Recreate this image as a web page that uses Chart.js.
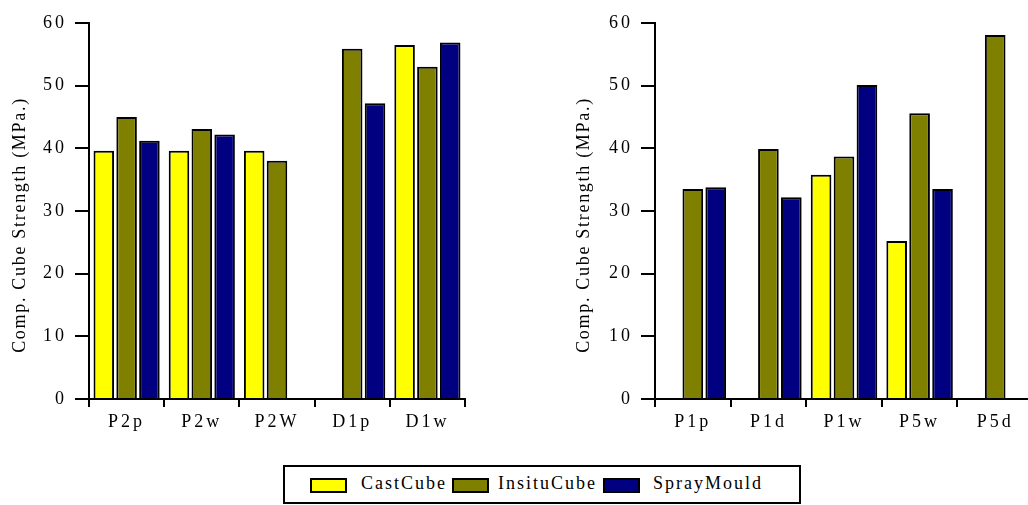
<!DOCTYPE html>
<html>
<head>
<meta charset="utf-8">
<script src="https://cdn.jsdelivr.net/npm/chart.js@4/dist/chart.umd.min.js"></script>
<style>
  html, body { margin: 0; padding: 0; background: #fff; width: 1028px; height: 505px; overflow: hidden; position: relative; }
  canvas { position: absolute; top: 0; }
  #c1 { left: 0; }
  #c2 { left: 560px; }
  #legend { position: absolute; left: 283px; top: 465px; width: 514px; height: 35px; border: 2px solid #000; box-sizing: content-box;
            font-family: 'Liberation Serif', 'Times New Roman', serif; font-size: 18px; letter-spacing: 2px; color: #000; }
  #legend .box { position: absolute; top: 11px; width: 33px; height: 11px; border: 2px solid #000; }
  #legend .txt { position: absolute; top: 5px; line-height: 22px; white-space: nowrap; }
</style>
</head>
<body>
<canvas id="c1" width="480" height="440"></canvas>
<canvas id="c2" width="480" height="440"></canvas>
<div id="legend"></div>
<script>
// ---- data ----
const seriesNames = ['CastCube', 'InsituCube', 'SprayMould'];
const seriesColors = ['#FFFF00', '#808000', '#000080'];

const leftCategories = ['P2p', 'P2w', 'P2W', 'D1p', 'D1w'];
const leftCastCube   = [39.6, 39.6, 39.6, null, 56.5];
const leftInsituCube = [45.0, 43.1, 38.0, 55.9, 53.0];
const leftSprayMould = [41.2, 42.2, null, 47.2, 56.9];

const rightCategories = ['P1p', 'P1d', 'P1w', 'P5w', 'P5d'];
const rightCastCube   = [null, null, 35.8, 25.2, null];
const rightInsituCube = [33.5, 39.9, 38.7, 45.6, 58.1];
const rightSprayMould = [33.8, 32.2, 50.1, 33.5, null];

const yTicks = [0, 10, 20, 30, 40, 50, 60];
const yTitle = 'Comp. Cube Strength (MPa.)';

// ---- style ----
const FONT_FAMILY = "'Liberation Serif', 'Times New Roman', serif";
const FONT_SIZE = 18;
const LETTER = '3px';
const TITLE_LETTER = '1.7px';

const spacingPlugin = {
  id: 'spacing',
  beforeLayout(chart) { chart.ctx.letterSpacing = LETTER; },
  beforeDraw(chart) { chart.ctx.letterSpacing = LETTER; }
};

const yTitlePlugin = {
  id: 'yTitle',
  afterDraw(chart, args, opts) {
    const ctx = chart.ctx;
    const ca = chart.chartArea;
    ctx.save();
    ctx.letterSpacing = TITLE_LETTER;
    ctx.translate(opts.x, (ca.top + ca.bottom) / 2 + opts.dy);
    ctx.rotate(-Math.PI / 2);
    ctx.textAlign = 'center';
    ctx.textBaseline = 'middle';
    ctx.fillStyle = '#000';
    ctx.font = FONT_SIZE + 'px ' + FONT_FAMILY;
    ctx.fillText(opts.text, 0, 0);
    ctx.restore();
  }
};

function makeChart(canvasId, cats, a, b, c, yAxisWidth, padRight, titleX) {
  const dataArrays = [a, b, c];
  return new Chart(document.getElementById(canvasId), {
    type: 'bar',
    data: {
      labels: cats,
      datasets: seriesNames.map((n, i) => ({
        label: n,
        data: dataArrays[i],
        backgroundColor: seriesColors[i],
        borderColor: '#000',
        borderWidth: 2,
        categoryPercentage: 0.91,
        barPercentage: 0.9
      }))
    },
    options: {
      responsive: false,
      animation: false,
      devicePixelRatio: 1,
      layout: { padding: { top: 23, right: padRight, bottom: 0, left: 0 } },
      plugins: {
        legend: { display: false },
        tooltip: { enabled: false },
        yTitle: { text: yTitle, x: titleX, dy: 14 }
      },
      scales: {
        x: {
          type: 'category',
          offset: true,
          grid: { offset: true, drawOnChartArea: false, drawTicks: true, tickLength: 8, color: '#000', lineWidth: 2 },
          border: { display: true, color: '#000', width: 2 },
          ticks: { color: '#000', font: { family: FONT_FAMILY, size: FONT_SIZE }, padding: 4, maxRotation: 0, autoSkip: false },
          afterFit(scale) { scale.height = 41; }
        },
        y: {
          min: 0, max: 60,
          afterBuildTicks(scale) { scale.ticks = yTicks.map(v => ({ value: v })); },
          grid: { drawOnChartArea: false, drawTicks: true, tickLength: 14, color: '#000', lineWidth: 2 },
          border: { display: true, color: '#000', width: 2 },
          ticks: { color: '#000', font: { family: FONT_FAMILY, size: FONT_SIZE }, padding: 8 },
          title: { display: false },
          afterFit(scale) { scale.width = yAxisWidth; }
        }
      }
    },
    plugins: [spacingPlugin, yTitlePlugin]
  });
}

makeChart('c1', leftCategories, leftCastCube, leftInsituCube, leftSprayMould, 89, 15, 20);
makeChart('c2', rightCategories, rightCastCube, rightInsituCube, rightSprayMould, 95, 7, 24);

// ---- legend (HTML, real text) ----
const legend = document.getElementById('legend');
const boxLefts = [25, 167, 318];
const txtLefts = [76, 213, 368];
seriesNames.forEach((n, i) => {
  const b = document.createElement('div');
  b.className = 'box';
  b.style.left = boxLefts[i] + 'px';
  b.style.background = seriesColors[i];
  legend.appendChild(b);
  const t = document.createElement('div');
  t.className = 'txt';
  t.style.left = txtLefts[i] + 'px';
  t.textContent = n;
  legend.appendChild(t);
});
</script>
</body>
</html>
